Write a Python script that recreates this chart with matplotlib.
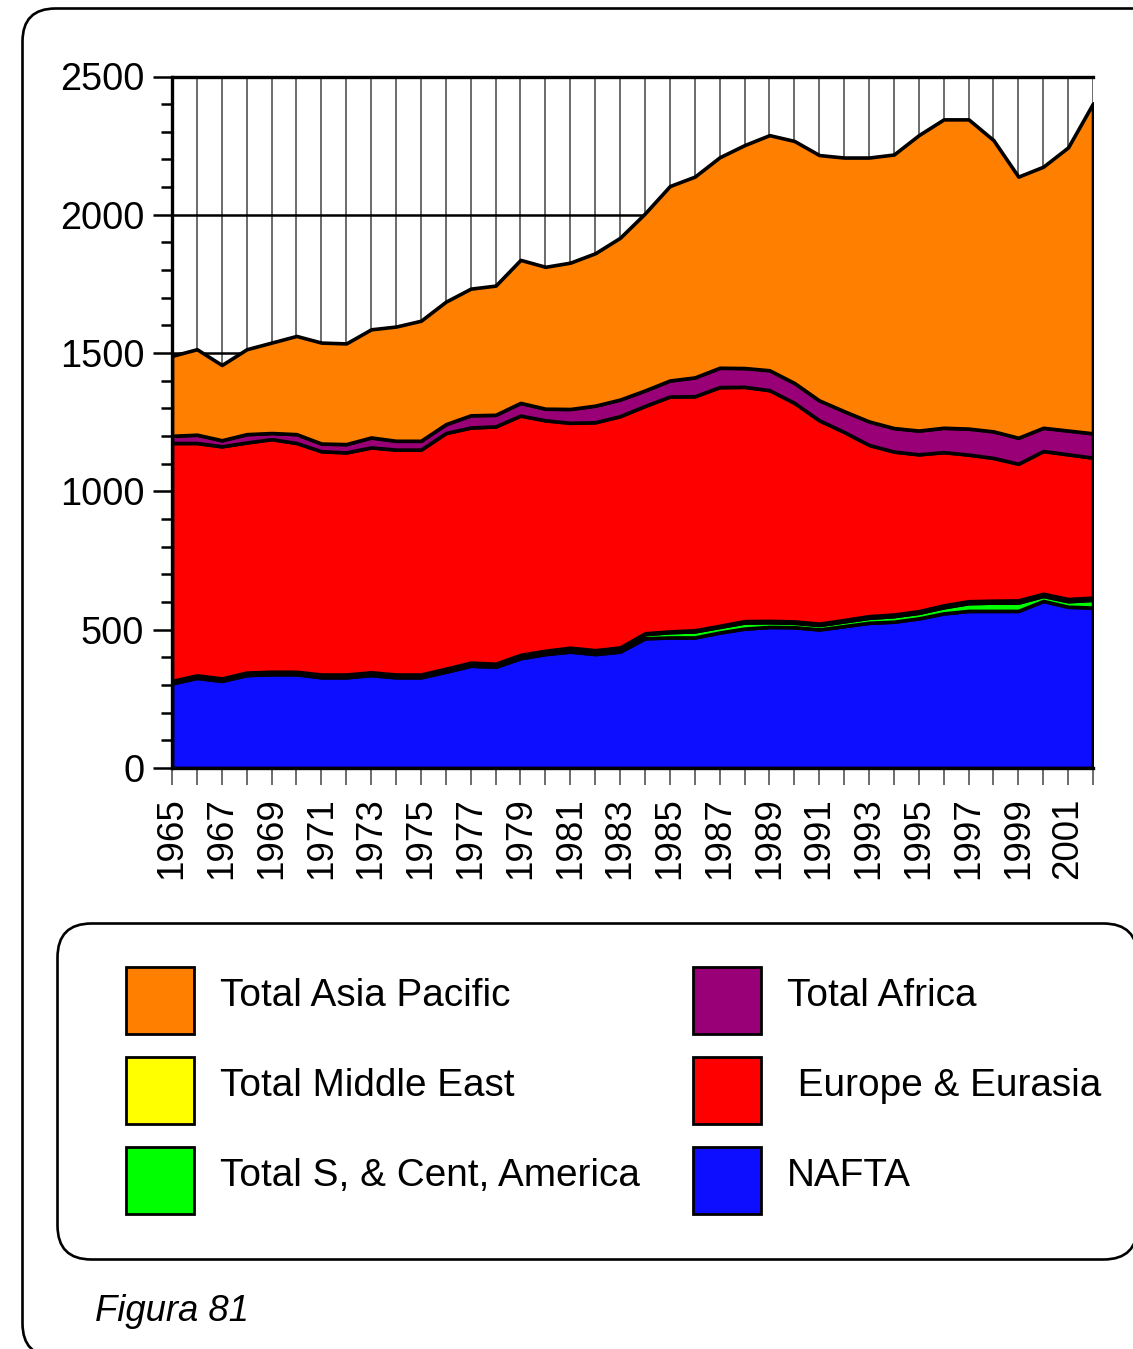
import numpy as np
import matplotlib
matplotlib.use("Agg")
import matplotlib.pyplot as plt
from matplotlib.patches import FancyBboxPatch, Rectangle

plt.rcParams['font.family'] = ['Liberation Sans', 'DejaVu Sans']

# --- dados ---
anos = list(range(1965, 2003))

nafta = [306, 326, 315, 336, 339, 339, 328, 328, 336, 328,
         328, 348, 370, 366, 397, 412, 421, 412, 421, 469,
         472, 472, 490, 504, 510, 509, 501, 513, 525, 529,
         541, 559, 568, 568, 568, 604, 583, 580]
sc_america = [8, 8, 8, 8, 8, 8, 9, 9, 9, 9,
              9, 10, 10, 10, 11, 11, 12, 12, 13, 15,
              19, 22, 20, 22, 17, 16, 16, 17, 18, 20,
              20, 22, 28, 30, 30, 18, 20, 28]
oriente_medio = [1, 1, 1, 1, 1, 1, 1, 1, 1, 1,
                 1, 1, 1, 1, 1, 1, 2, 2, 2, 3,
                 3, 4, 4, 5, 5, 5, 5, 5, 6, 6,
                 6, 7, 7, 7, 8, 8, 8, 8]
europa = [860, 840, 839, 832, 841, 827, 807, 803, 813, 813,
          813, 852, 850, 858, 865, 833, 813, 824, 836, 822,
          849, 846, 863, 847, 834, 790, 735, 680, 619, 589,
          567, 554, 530, 516, 494, 516, 523, 506]
africa = [26, 30, 22, 30, 22, 32, 28, 30, 36, 32,
          32, 32, 44, 42, 46, 42, 50, 60, 60, 56,
          58, 68, 70, 68, 72, 72, 72, 75, 85, 85,
          86, 88, 94, 96, 94, 84, 86, 88]
asia = [289, 309, 272, 307, 327, 355, 365, 364, 391, 413,
        434, 443, 458, 467, 517, 513, 529, 551, 585, 640,
        703, 726, 761, 806, 850, 875, 887, 917, 954, 989,
        1068, 1115, 1118, 1053, 944, 944, 1024, 1193]

rotulos = ['NAFTA', 'Total S, & Cent, America', 'Total Middle East',
           ' Europe & Eurasia', 'Total Africa', 'Total Asia Pacific']
cores = ['#0d0dff', '#00ff00', '#ffff00', '#ff0000', '#990077', '#ff8000']

# ordem da legenda: coluna esquerda, coluna direita
legenda_esq = ['Total Asia Pacific', 'Total Middle East', 'Total S, & Cent, America']
legenda_dir = ['Total Africa', ' Europe & Eurasia', 'NAFTA']

W, H = 1133, 1349
fig = plt.figure(figsize=(W / 100, H / 100), dpi=100)

# camada de fundo em pixels (moldura, legenda, legenda da figura)
bg = fig.add_axes([0, 0, 1, 1], zorder=0)
bg.set_xlim(0, W)
bg.set_ylim(H, 0)
bg.axis('off')

bg.add_patch(FancyBboxPatch((22.5, 8.5), 1200, 1348,
                            boxstyle="round,pad=0,rounding_size=33",
                            fc='white', ec='black', lw=1.9))
bg.add_patch(FancyBboxPatch((57.5, 923.5), 1080, 336,
                            boxstyle="round,pad=0,rounding_size=34",
                            fc='white', ec='black', lw=1.9))

cor_de = dict(zip(rotulos, cores))
for col, (itens, x_patch, x_txt) in enumerate([(legenda_esq, 126, 220),
                                                 (legenda_dir, 693, 787)]):
    for i, nome in enumerate(itens):
        y0 = 967 + i * 90
        bg.add_patch(Rectangle((x_patch, y0), 68, 67, fc=cor_de[nome],
                               ec='black', lw=2.0))
        bg.text(x_txt, 1006 + i * 90, nome, fontsize=27.9, va='baseline',
                ha='left')

bg.text(95, 1321, 'Figura 81', fontsize=26.3, style='italic',
        va='baseline', ha='left')

# --- gráfico principal ---
ax = fig.add_axes([172 / W, 1 - 768 / H, (1093 - 172) / W, (768 - 76.5) / H],
                  zorder=1)
ax.stackplot(anos, nafta, sc_america, oriente_medio, europa, africa, asia,
             colors=cores, edgecolor='black', linewidth=2.6)

ax.set_xlim(1965, 2002)
ax.set_ylim(0, 2500)
ax.set_axisbelow(True)

ax.set_yticks(np.arange(0, 2501, 500))
ax.set_yticks(np.arange(0, 2501, 100), minor=True)
ax.set_xticks(np.arange(1965, 2002, 2))
ax.set_xticks(np.arange(1965, 2003, 1), minor=True)
ax.set_xticklabels([str(a) for a in range(1965, 2002, 2)], rotation=90)

ax.yaxis.grid(True, which='major', color='black', lw=1.8)
ax.xaxis.grid(True, which='both', color='#444444', lw=1.1)

ax.tick_params(axis='y', which='major', length=14, width=1.8, pad=6,
               labelsize=27.3)
ax.tick_params(axis='y', which='minor', length=8, width=1.8)
ax.tick_params(axis='x', which='both', length=12, width=1.1,
               color='#444444', pad=9, labelsize=26.5)

for lado in ['left', 'bottom', 'top']:
    ax.spines[lado].set_linewidth(2.4)
ax.spines['right'].set_visible(False)

fig.savefig('out.png', dpi=100)
